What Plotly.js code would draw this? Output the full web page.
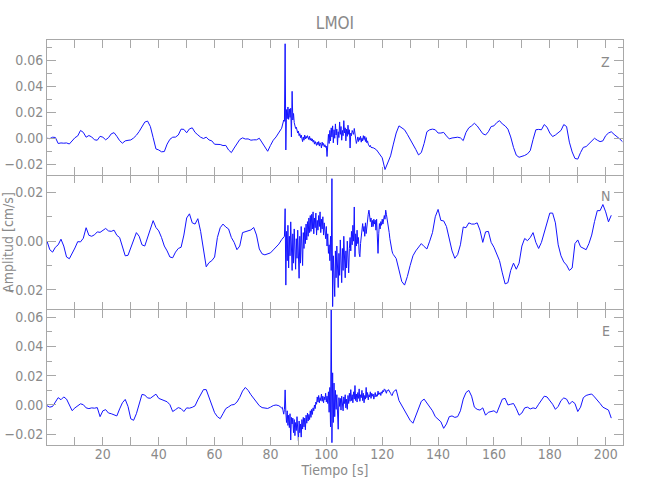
<!DOCTYPE html>
<html>
<head>
<meta charset="utf-8">
<script src="https://cdn.plot.ly/plotly-3.0.1.min.js"></script>
<style>
  html, body { margin: 0; padding: 0; background: #ffffff; }
  #chart { width: 650px; height: 500px; }
</style>
</head>
<body>
<div id="chart"></div>
<script>
// ---------------- data (velocity, cm/s) ----------------
// Each component is stored in three segments: quiet part (1 s samples),
// strong-motion part (0.25 s samples), quiet part (1 s samples).
const preStart = 0,   preStep = 1;
const burstStart = 84, burstStep = 0.25;
const zPostStart = 116, nePostStart = 124, postStep = 1;

const xTickVals = [20, 40, 60, 80, 100, 120, 140, 160, 180, 200];
const channelNames = ['Z', 'N', 'E'];

const zPre = [
  0, -0.0003, 0.0008, 0.0006, -0.004, -0.0036, -0.0038, -0.0036, -0.0044, -0.002,
  0.0004, 0.0018, 0.006, 0.0045, 0.0008, 0.0021, 0.001, -0.0012, -0.0015, 0.0015,
  0.0008, -0.0012, 0.0004, 0.0034, 0.0043, 0.0015, -0.0018, -0.0038, -0.002, -0.0016,
  -0.0013, 0.0002, 0.0023, 0.0052, 0.009, 0.0124, 0.0132, 0.009, 0.0005, -0.0082,
  -0.009, -0.0104, -0.0102, -0.0045, -0.0008, 0.0008, 0.0009, 0.0025, 0.007, 0.0068,
  0.0042, 0.0072, 0.008, 0.0045, 0.0026, 0.0008, -0.0002, 0.0008, -0.0013, -0.002,
  -0.0046, -0.0045, -0.0048, -0.0056, -0.0055, -0.009, -0.011, -0.0075, -0.0038, -0.001,
  0.0003, -0.0006, -0.0005, -0.0015, -0.0012, -0.0012, 0, -0.003, -0.0065, -0.01,
  -0.0055, -0.0015, 0.001, 0.004, 0.0077
];
const zBurst = [
  0.0077, 0.0095, 0.0115, 0.014,  0.013, 0.0725, -0.009, 0.022,
  0.015, 0.024, 0.0145, 0.0225,   0.016, 0.023, 0.001, 0.036,
  0.014, 0.019, 0.012, 0.01,      0.0075, 0.0085, 0.005, 0.004,
  0.0055, 0.002, 0.0035, 0.0005,  0.0025, -0.0015, -0.0026, 0.001,
  -0.0015, 0.0025, -0.0005, 0.0015, 0, 0.002, 0.001, -0.001,
  0.0015, -0.0015, 0, -0.002,     -0.0005, -0.003, -0.0015, -0.0045,
  -0.0025, -0.004, -0.0055, -0.003, -0.005, -0.0025, -0.006, -0.0035,
  -0.0045, -0.0075, -0.003, -0.0055, -0.004, -0.0065, -0.005, -0.007,
  -0.006, -0.014, -0.005, 0.003,  -0.004, 0.006, -0.002, 0.008,
  0.001, 0.0095, -0.0035, 0.0065, 0, 0.011, 0.0025, 0.007,
  -0.005, 0.005, 0.0005, 0.0125,  0.003, 0.009, -0.0015, 0.006,
  0.002, 0.0135, 0.004, 0.008,    -0.002, 0.007, 0.0015, 0.01,
  0.003, 0.0065, -0.0075, 0.004,  0.002, 0.006, 0.0045, 0.003,
  0.0075, 0.004, -0.001, -0.004,  -0.002, 0.001, -0.0025, 0.0005,
  -0.0015, 0.0015, -0.003, 0,     -0.002, 0.002, -0.001, 0.0015,
  -0.0025, 0.0005, -0.0035, -0.002, -0.0045, -0.0055, -0.0065, -0.0055,
  -0.007
];
const zPost = [
  -0.007, -0.0075, -0.009, -0.012, -0.015, -0.024, -0.019, -0.0135, -0.0045, 0.004,
  0.0095, 0.008, 0.0065, 0.003, -0.0005, -0.004, -0.0085, -0.0128, -0.011, -0.004,
  0.005, 0.0065, 0.007, 0.0065, 0.004, 0.004, 0.0045, 0.0018, -0.0005, 0.0002,
  0.0005, 0.0008, 0.0003, -0.0018, 0.0045, 0.008, 0.0095, 0.0115, 0.0095, 0.0065,
  0.0035, 0.0025, 0.005, 0.009, 0.0095, 0.012, 0.0135, 0.011, 0.0095, 0.007,
  0.001, -0.007, -0.013, -0.0146, -0.014, -0.0132, -0.012, -0.0095, -0.001, 0.0065,
  0.0068, 0.0065, 0.0105, 0.0085, 0.004, 0.0013, 0.0025, 0.004, 0.006, 0.0105,
  0.009, -0.003, -0.0105, -0.0155, -0.016, -0.011, -0.007, -0.0064, -0.0045, -0.002,
  0, -0.0015, -0.0026, -0.002, 0.002, 0.004, 0.005, 0.003, 0.0015, -0.0005, -0.0026
];

const nPre = [
  0, -0.0035, -0.0045, -0.0025, -0.0015, 0.0008, -0.002, -0.0065, -0.0072, -0.0052,
  -0.0028, -0.0002, -0.0003, 0.0012, 0.0055, 0.0024, 0.002, 0.0026, 0.0038, 0.0036,
  0.0046, 0.0052, 0.0042, 0.004, 0.0045, 0.0024, 0.0015, -0.002, -0.006, -0.0058,
  -0.0025, 0.0005, 0.0035, 0.002, -0.0015, -0.002, 0.0015, 0.005, 0.0084, 0.0056,
  0.0042, 0.0015, -0.002, -0.004, -0.0065, -0.0068, -0.0045, -0.003, -0.0025, 0.0025,
  0.0095, 0.0112, 0.0075, 0.007, 0.0092, 0.004, -0.003, -0.0105, -0.0088, -0.008,
  -0.0065, 0.0015, 0.0055, 0.007, 0.0058, 0.005, 0.0015, -0.0005, -0.0035, -0.002,
  0.0035, 0.0038, 0.0044, 0.0046, 0.0056, 0.0025, -0.0032, -0.0052, -0.0056, -0.0053,
  -0.0048, -0.0036, -0.0026, -0.0012, 0.0006
];
const nBurst = [
  0.0006, 0.0009, 0.0014, 0.0018,
  0.002, 0.0133, -0.018, 0.004,
  -0.008, 0.0065, -0.011, 0.002,
  -0.006, 0.0079, -0.004, -0.012,
  0.003, -0.009, 0.005, -0.003,
  -0.0115, 0.001, -0.007, 0.0045,
  -0.005, -0.0152, 0.002, -0.009,
  0.006, -0.0045, -0.01, 0.0035,
  -0.003, 0.0055, -0.001, 0.007,
  0.0005, 0.008, 0.002, 0.0095,
  0.0035, 0.0105, 0.004, 0.011,
  0.005, 0.012, 0.003, 0.0095,
  0.0055, 0.0115, 0.0025, 0.0085,
  0.0045, 0.0105, 0.006, 0.012,
  0.0035, 0.009, 0.005, 0.01,
  0.0025, 0.0075, 0.0045, 0.001,
  0.006, -0.002, 0.003, -0.005,
  -0.0015, -0.008, 0.002, -0.012,
  0.0256, -0.0268, -0.006, -0.018,
  -0.0227, -0.004, -0.015, -0.002,
  -0.013, -0.019, -0.005, -0.014,
  0.0005, -0.01, -0.017, -0.003,
  -0.012, 0.002, -0.008, -0.015,
  -0.004, -0.011, 0, -0.009,
  -0.013, -0.003, 0.0015, -0.004,
  0.004, -0.0015, 0.0065, 0,
  0.014, -0.0064, 0.003, -0.002,
  0.0045, -0.001, 0.0015, -0.005,
  -0.0064, -0.001, 0.0025, 0.0045,
  0.0072, 0.004, 0.006, 0.002,
  0.0075, 0.0031, 0.0065, 0.0095,
  0.011, 0.0127, 0.0105, 0.008,
  0.0095, 0.0058, 0.0085, 0.006,
  0.009, 0.007, 0.0086, 0.0045,
  0.009, 0.002, -0.005, 0.003,
  0.0072, 0.005, 0.008, 0.0065,
  0.009, 0.007, 0.0086, 0.0105,
  0.009, 0.0127, 0.011, 0.0095,
  0.008, 0.006, 0.0035, 0.001,
  -0.0015, -0.003, -0.004, -0.005,
  -0.0055
];
const nPost = [
  -0.0055, -0.0071, -0.0118, -0.0165, -0.018, -0.0145, -0.01, -0.006, -0.004, -0.0025,
  -0.001, -0.0022, -0.0032, 0, 0.0035, 0.01, 0.013, 0.0085, 0.0083, 0.006,
  0.001, -0.004, -0.007, -0.0055, -0.0015, 0.0058, 0.0055, 0.0075, 0.007, 0.007,
  0.0075, 0.0045, -0.0005, 0.0038, 0.004, -0.0005, -0.0025, -0.005, -0.008, -0.013,
  -0.0175, -0.017, -0.012, -0.009, -0.0115, -0.009, -0.002, 0.0011, 0.0002, 0.0015,
  0.0035, -0.0005, -0.003, -0.0005, 0.0035, 0.0086, 0.0115, 0.0115, 0.0075, -0.0015,
  -0.006, -0.0085, -0.0098, -0.012, -0.011, -0.001, 0.0005, -0.0023, -0.003, -0.0035,
  -0.001, 0.0025, 0.008, 0.0125, 0.0125, 0.015, 0.012, 0.0079, 0.0106
];

const ePre = [
  -0.0005, -0.0015, -0.001, 0.002, 0.005, 0.0036, 0.0055, 0.004, -0.0005, -0.0039,
  -0.002, -0.0006, 0.0008, 0.0002, -0.002, -0.0025, -0.002, -0.0022, -0.0018, -0.008,
  -0.004, -0.0032, -0.0055, -0.006, -0.0068, -0.0075, -0.0027, 0.0015, 0.0038, -0.001,
  -0.0095, -0.0105, -0.006, 0.0005, 0.0072, 0.0068, 0.0048, 0.0046, 0.0058, 0.0074,
  0.0045, 0.0038, 0.003, 0.0022, 0.0002, -0.0045, -0.0032, -0.0018, -0.0025, -0.0045,
  -0.002, -0.0022, -0.0016, -0.0006, 0.0035, 0.0075, 0.0105, 0.0105, 0.0055, -0.0008,
  -0.0053, -0.008, -0.0094, -0.006, -0.0025, -0.0013, 0, 0.0003, 0.002, 0.0052,
  0.0095, 0.012, 0.01, 0.007, 0.0045, 0.0015, -0.0005, -0.0018, -0.002, -0.0024,
  -0.0015, -0.0004, 0, -0.0005, -0.002
];
const eBurst = [
  -0.002, -0.0016, -0.004, -0.0063,
  -0.003, 0.0103, -0.005, -0.012,
  -0.004, -0.014, -0.007, -0.0155,
  -0.006, -0.024, -0.0085, -0.013,
  -0.009, -0.019, -0.01, -0.021,
  -0.012, -0.0175, -0.008, -0.02,
  -0.0246, -0.011, -0.019, -0.013,
  -0.022, -0.01, -0.0165, -0.0085,
  -0.015, -0.009, -0.017, -0.007,
  -0.0125, -0.0055, -0.011, -0.0065,
  -0.01, -0.004, -0.0085, -0.003,
  -0.0065, -0.002, -0.004, 0,
  -0.0025, 0.002, 0.0005, 0.0055,
  0.002, 0.0065, 0.0015, 0.005,
  0.003, 0.0075, 0.0025, 0.006,
  0.0015, 0.0055, 0.0035, 0.008,
  0.002, 0.006, 0.001, 0.009,
  -0.005, 0.012, -0.015, 0.068,
  -0.0258, 0.022, -0.012, 0.015,
  -0.008, 0.01, -0.003, 0.007,
  -0.002, -0.0166, 0.005, -0.001,
  0.0045, -0.0035, 0.006, 0,
  -0.004, 0.0055, 0.001, 0.007,
  -0.002, 0.004, -0.003, 0.0065,
  0.001, 0.008, 0.0025, 0.0105,
  0.003, 0.007, 0.0015, 0.009,
  0.004, 0.0133, 0.003, 0.0075,
  0.002, 0.0085, 0.0045, 0.011,
  0.0025, 0.007, 0.005, 0.01,
  0.003, 0.008, 0.0015, 0.0065,
  0.004, 0.012, 0.005, 0.0085,
  0.0035, 0.007, 0.0055, 0.009,
  0.0045, 0.008, 0.006, 0.0075,
  0.004, 0.0065, 0.0085, 0.0055,
  0.007, 0.006, 0.0095, 0.007,
  0.0075, 0.0085, 0.0065, 0.009,
  0.008, 0.01, 0.009, 0.011,
  0.0105, 0.009, 0.008, 0.01,
  0.0095, 0.0105, 0.0099, 0.009,
  0.008, 0.007, 0.0064, 0.0075,
  0.009
];
const ePost = [
  0.009, 0.0105, 0.003, -0.0005, -0.0035, -0.007, -0.0105, -0.0125, -0.007, -0.0015,
  0.0025, 0.004, 0.0015, -0.0008, -0.004, -0.008, -0.0097, -0.0115, -0.016, -0.013,
  -0.008, -0.0075, -0.0085, -0.008, -0.004, 0.004, 0.0085, 0.01, 0.006, -0.0015,
  -0.003, -0.0035, -0.002, -0.007, -0.005, -0.0045, -0.004, -0.0055, -0.0005, 0.004,
  0.0045, 0, 0.0005, 0.001, -0.0025, -0.007, -0.0055, -0.002, -0.0015, -0.0027,
  -0.002, -0.0025, 0.0005, 0.0035, 0.006, 0.0055, 0.003, 0.0005, -0.003, -0.001,
  0.003, 0.0048, 0.004, 0.0005, 0.0025, 0.001, -0.0045, -0.0015, 0.005, 0.0065,
  0.0071, 0.0075, 0.0055, 0.0035, 0.001, -0.0015, -0.0027, -0.0035, -0.009
];

// ---------------- styling ----------------
const FONT = "'Liberation Sans Narrow', 'DejaVu Sans Condensed', 'Liberation Sans', sans-serif";
const TEXT = '#8a8a8a';
const LINE = '#a8a8a8';
const TRACE = 'rgb(20,20,255)';

function seg(y, x0, dx, yaxis, xaxis) {
  return { type: 'scatter', mode: 'lines', y: y, x0: x0, dx: dx,
           xaxis: xaxis, yaxis: yaxis,
           line: { color: TRACE, width: 1 }, hoverinfo: 'skip', showlegend: false };
}

const traces = [
  seg(zPre, preStart, preStep, 'y3', 'x3'),
  seg(zBurst, burstStart, burstStep, 'y3', 'x3'),
  seg(zPost, zPostStart, postStep, 'y3', 'x3'),
  seg(nPre, preStart, preStep, 'y2', 'x2'),
  seg(nBurst, burstStart, burstStep, 'y2', 'x2'),
  seg(nPost, nePostStart, postStep, 'y2', 'x2'),
  seg(ePre, preStart, preStep, 'y', 'x'),
  seg(eBurst, burstStart, burstStep, 'y', 'x'),
  seg(ePost, nePostStart, postStep, 'y', 'x')
];

function xAxis(anchor, labels, lineColor) {
  return {
    anchor: anchor, domain: [0, 1], range: [0, 206.2],
    showline: true, linecolor: lineColor, linewidth: 1, mirror: 'ticks',
    ticks: 'inside', ticklen: 8, tickcolor: LINE, tickwidth: 1,
    tickmode: 'array', tickvals: xTickVals, showticklabels: labels,
    ticklabelstandoff: -4,
    tickfont: { family: FONT, size: 14, color: TEXT },
    minor: { tickmode: 'linear', tick0: 0, dtick: 10, ticks: 'inside', ticklen: 8, tickcolor: LINE, tickwidth: 1, showgrid: false },
    showgrid: false, zeroline: false, fixedrange: true
  };
}
function yAxis(anchor, domain, range) {
  return {
    anchor: anchor, domain: domain, range: range,
    showline: true, linecolor: LINE, linewidth: 1, mirror: 'ticks',
    ticks: 'inside', ticklen: 9, tickcolor: LINE, tickwidth: 1,
    tickmode: 'linear', tick0: 0, dtick: 0.02, tickformat: '.2f',
    tickfont: { family: FONT, size: 14, color: TEXT },
    minor: { tickmode: 'linear', tick0: 0, dtick: 0.01, ticks: 'inside', ticklen: 5, tickcolor: LINE, tickwidth: 1, showgrid: false },
    showgrid: false, zeroline: false, fixedrange: true
  };
}

const xBottom = xAxis('y', true, LINE);
xBottom.title = { text: 'Tiempo [s]', font: { family: FONT, size: 14, color: TEXT }, standoff: 2 };

const yN = yAxis('x2', [1/3, 2/3], [-0.0282, 0.0271]);
yN.title = { text: 'Amplitud [cm/s]', font: { family: FONT, size: 14, color: TEXT }, standoff: 6 };

const labelY = [0.9457, 0.6148, 0.2815];
const annotations = channelNames.map((name, i) => ({
  text: name, xref: 'paper', yref: 'paper', x: 0.97, y: labelY[i],
  xanchor: 'center', yanchor: 'middle', showarrow: false,
  font: { family: FONT, size: 14, color: TEXT }
}));

const layout = {
  width: 650, height: 500,
  margin: { l: 47, r: 27, t: 40, b: 55 },
  paper_bgcolor: '#ffffff', plot_bgcolor: '#ffffff',
  title: { text: 'LMOI', font: { family: FONT, size: 17, color: TEXT },
           x: 0.5, xref: 'paper', y: 0.954, yref: 'container', yanchor: 'middle' },
  xaxis: xBottom,
  xaxis2: xAxis('y2', false, 'rgba(0,0,0,0)'),
  xaxis3: xAxis('y3', false, LINE),
  yaxis: yAxis('x', [0, 1/3], [-0.0274, 0.065]),
  yaxis2: yN,
  yaxis3: yAxis('x3', [2/3, 1], [-0.0282, 0.0754]),
  annotations: annotations,
  showlegend: false
};

Plotly.newPlot('chart', traces, layout, { staticPlot: true, displayModeBar: false });
</script>
</body>
</html>
